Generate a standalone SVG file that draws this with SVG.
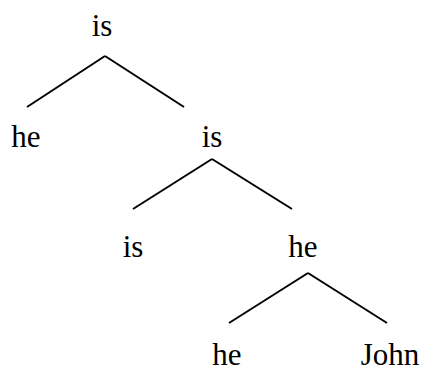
<svg xmlns="http://www.w3.org/2000/svg" width="422" height="368" viewBox="0 0 422 368">
<style>
text{font-family:"Liberation Serif","Times New Roman",serif;font-size:31px;fill:#000;text-anchor:middle}
line{stroke:#000;stroke-width:2}
</style>
<rect width="422" height="368" fill="#fff"/>
<g id="connectors">
<line x1="105" y1="56" x2="27" y2="107"/>
<line x1="105" y1="56" x2="184" y2="107"/>
<line x1="212" y1="159" x2="133" y2="209"/>
<line x1="212" y1="159" x2="292" y2="209"/>
<line x1="308" y1="273" x2="229" y2="323"/>
<line x1="308" y1="273" x2="387" y2="323"/>
</g>
<g id="n1"><text x="102" y="36">is</text></g>
<g id="n2"><text x="26" y="147">he</text></g>
<g id="n3"><text x="212" y="147">is</text></g>
<g id="n4"><text x="133" y="257">is</text></g>
<g id="n5"><text x="303" y="257">he</text></g>
<g id="n6"><text x="227" y="365">he</text></g>
<g id="n7"><text x="390" y="365">John</text></g>
</svg>
